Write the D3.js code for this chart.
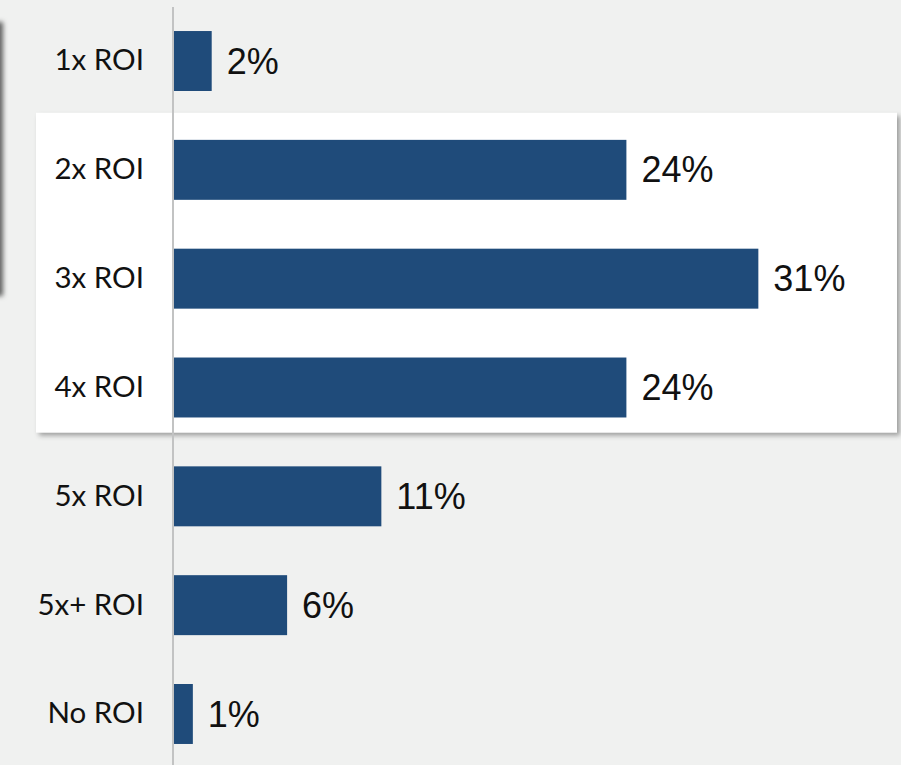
<!DOCTYPE html>
<html>
<head>
<meta charset="utf-8">
<script src="https://cdn.jsdelivr.net/npm/d3@7/dist/d3.min.js"></script>
<style>
  html, body { margin: 0; padding: 0; background: #f0f1f0; }
  svg { display: block; }
</style>
</head>
<body>
<div id="chart"></div>
<script>
// ROI outcome distribution (% of respondents)
const categories = ["1x ROI", "2x ROI", "3x ROI", "4x ROI", "5x ROI", "5x+ ROI", "No ROI"];
const values = [2, 24, 31, 24, 11, 6, 1];
const valueLabels = ["2%", "24%", "31%", "24%", "11%", "6%", "1%"];
const highlighted = ["2x ROI", "3x ROI", "4x ROI"];

const W = 901, H = 765;
const svg = d3.select("#chart").append("svg")
  .attr("width", W).attr("height", H);

const defs = svg.append("defs");
const shadow = defs.append("filter").attr("id", "card-shadow")
  .attr("x", "-10%").attr("y", "-10%").attr("width", "130%").attr("height", "130%");
shadow.append("feDropShadow")
  .attr("dx", 3).attr("dy", 3).attr("stdDeviation", 2.5)
  .attr("flood-color", "#000").attr("flood-opacity", 0.35);

const edgeShadow = defs.append("filter").attr("id", "edge-shadow")
  .attr("x", "-10%").attr("y", "-10%").attr("width", "130%").attr("height", "130%");
edgeShadow.append("feDropShadow")
  .attr("dx", 3).attr("dy", 2).attr("stdDeviation", 2.5)
  .attr("flood-color", "#000").attr("flood-opacity", 0.6);

svg.append("rect").attr("width", W).attr("height", H).attr("fill", "#f0f1f0");

const x = d3.scaleLinear().domain([0, 40]).range([174, 174 + 754]);
const y = d3.scaleBand().domain(categories).range([6.6, 768.4]).paddingInner(0.449).paddingOuter(0.2245);

// neighbouring panel edge peeking in from the left
svg.append("rect")
  .attr("x", -300).attr("y", 20).attr("width", 300).attr("height", 274)
  .attr("fill", "#f0f1f0").attr("filter", "url(#edge-shadow)");

// highlight card behind the middle rows
const cardTop = y(highlighted[0]) - 27;
const cardBottom = y(highlighted[highlighted.length - 1]) + y.bandwidth() + 15;
svg.append("rect")
  .attr("x", 36).attr("y", cardTop)
  .attr("width", 897 - 36).attr("height", cardBottom - cardTop)
  .attr("fill", "#ffffff").attr("filter", "url(#card-shadow)");

// bars
svg.append("g").selectAll("rect")
  .data(categories)
  .join("rect")
  .attr("x", x(0))
  .attr("y", d => y(d))
  .attr("width", (d, i) => x(values[i]) - x(0))
  .attr("height", y.bandwidth())
  .attr("fill", "#1f4b7a");

// value labels
svg.append("g").selectAll("text")
  .data(categories)
  .join("text")
  .attr("x", (d, i) => x(values[i]) + 15)
  .attr("y", d => y(d) + y.bandwidth() / 2)
  .attr("dy", "0.35em")
  .attr("font-family", "Liberation Sans, Arial, sans-serif")
  .attr("font-size", 36)
  .attr("fill", "#111")
  .text((d, i) => valueLabels[i]);

// category axis
const yAxis = d3.axisLeft(y).tickSize(0).tickPadding(29);
const ax = svg.append("g").attr("transform", "translate(173,0)").call(yAxis);
ax.select(".domain").remove();
ax.selectAll("text")
  .attr("font-family", "Lato, sans-serif")
  .attr("font-size", 29.5)
  .attr("fill", "#111");

svg.append("line")
  .attr("x1", 173).attr("x2", 173)
  .attr("y1", 7).attr("y2", H)
  .attr("stroke", "#c2c3c3").attr("stroke-width", 2);
</script>
</body>
</html>
